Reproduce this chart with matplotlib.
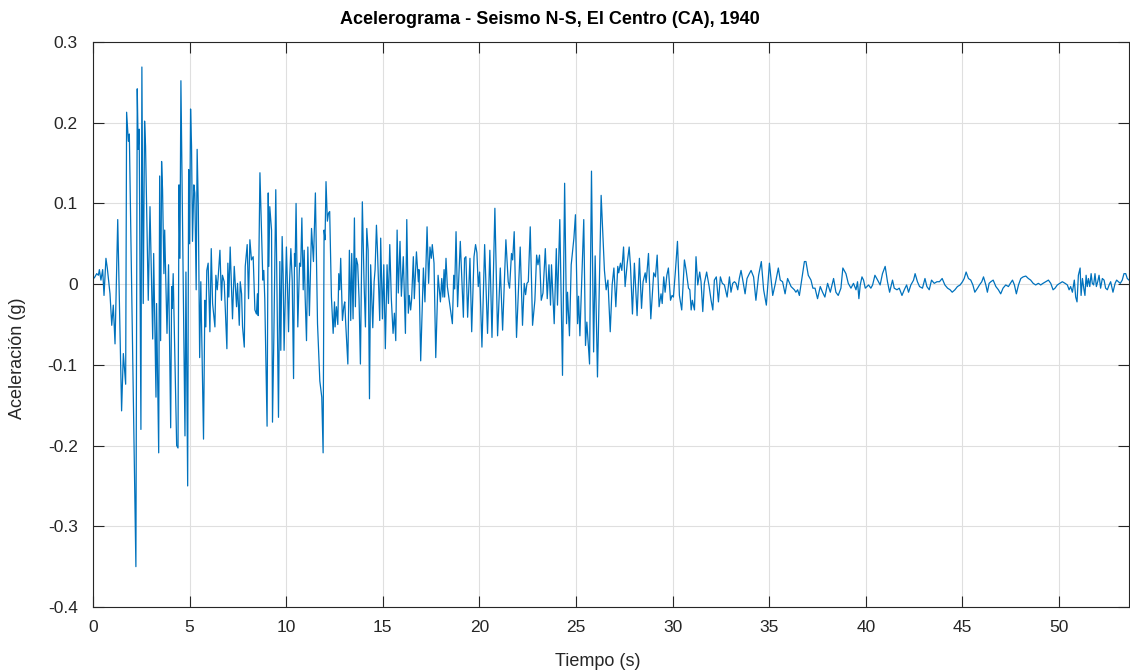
import numpy as np
import matplotlib
matplotlib.use("Agg")
import matplotlib.pyplot as plt

# acelerograma (puntos de giro: tiempo en s, aceleracion en g)
tiempo = [
    0.00, 0.10, 0.19, 0.28, 0.33, 0.41, 0.50, 0.57, 0.67, 0.74, 0.88, 0.97, 1.05, 1.14, 1.28,
    1.48, 1.57, 1.69, 1.74, 1.83, 1.88, 2.22, 2.29, 2.34, 2.39, 2.48, 2.53, 2.60, 2.67, 2.72,
    2.86, 2.95, 3.09, 3.14, 3.26, 3.29, 3.40, 3.45, 3.50, 3.55, 3.60, 3.67, 3.71, 3.83, 3.91,
    4.02, 4.07, 4.10, 4.15, 4.33, 4.40, 4.45, 4.50, 4.55, 4.76, 4.81, 4.90, 4.95, 5.00,
    5.05, 5.10, 5.15, 5.22, 5.27, 5.34, 5.39, 5.45, 5.52, 5.58, 5.72, 5.79, 5.84, 5.89, 5.96,
    6.05, 6.12, 6.19, 6.31, 6.36, 6.43, 6.48, 6.57, 6.65, 6.70, 6.79, 6.93, 6.98, 7.03, 7.10,
    7.22, 7.31, 7.43, 7.48, 7.57, 7.62, 7.69, 7.74, 7.83, 7.88, 7.98, 8.05, 8.12, 8.20, 8.29,
    8.38, 8.46, 8.51, 8.55, 8.64, 8.79, 8.84, 8.89, 9.01, 9.07, 9.10, 9.15, 9.24, 9.29, 9.36,
    9.46, 9.60, 9.67, 9.72, 9.79, 9.84, 9.89, 9.96, 10.01, 10.07, 10.12, 10.17, 10.24, 10.31,
    10.38, 10.43, 10.46, 10.51, 10.60, 10.69, 10.75, 10.81, 10.88, 10.93, 10.98, 11.05, 11.12,
    11.20, 11.31, 11.41, 11.51, 11.62, 11.74, 11.84, 11.91, 11.96, 12.01, 12.06, 12.13, 12.19,
    12.25, 12.34, 12.43, 12.50, 12.53, 12.60, 12.67, 12.72, 12.77, 12.82, 12.91, 12.98, 13.03,
    13.08, 13.19, 13.27, 13.34, 13.39, 13.46, 13.53, 13.58, 13.63, 13.70, 13.77, 13.84, 13.94,
    14.03, 14.10, 14.17, 14.24, 14.31, 14.37, 14.48, 14.55, 14.60, 14.67, 14.72, 14.84, 14.89,
    14.98, 15.05, 15.13, 15.22, 15.29, 15.36, 15.44, 15.53, 15.60, 15.67, 15.74, 15.80, 15.89,
    15.96, 16.06, 16.17, 16.24, 16.32, 16.37, 16.44, 16.49, 16.58, 16.63, 16.74, 16.79, 16.84,
    16.87, 16.96, 17.10, 17.18, 17.29, 17.37, 17.44, 17.51, 17.56, 17.65, 17.74, 17.86, 17.98,
    18.05, 18.11, 18.17, 18.20, 18.27, 18.34, 18.46, 18.60, 18.67, 18.72, 18.79, 18.87, 19.01,
    19.17, 19.23, 19.30, 19.39, 19.51, 19.60, 19.72, 19.80, 19.87, 19.94, 20.01, 20.13, 20.27,
    20.42, 20.54, 20.65, 20.80, 20.94, 21.08, 21.20, 21.37, 21.49, 21.56, 21.66, 21.72, 21.80,
    21.92, 22.11, 22.23, 22.32, 22.39, 22.46, 22.53, 22.63, 22.75, 22.87, 22.96, 23.03, 23.11,
    23.20, 23.29, 23.41, 23.51, 23.60, 23.68, 23.73, 23.87, 23.98, 24.04, 24.16, 24.30, 24.41,
    24.51, 24.56, 24.66, 24.75, 24.89, 24.97, 25.08, 25.13, 25.20, 25.40, 25.49, 25.56, 25.70,
    25.80, 25.91, 25.99, 26.11, 26.30, 26.47, 26.56, 26.65, 26.77, 26.87, 26.96, 27.06, 27.16,
    27.21, 27.30, 27.37, 27.46, 27.54, 27.65, 27.75, 27.82, 27.92, 28.02, 28.16, 28.28, 28.39,
    28.47, 28.58, 28.63, 28.75, 28.87, 29.02, 29.11, 29.20, 29.30, 29.40, 29.46, 29.54, 29.61,
    29.70, 29.78, 29.89, 29.97, 30.04, 30.14, 30.25, 30.35, 30.47, 30.61, 30.70, 30.82, 30.89,
    30.96, 31.02, 31.13, 31.21, 31.30, 31.40, 31.47, 31.56, 31.64, 31.76, 31.89, 31.99, 32.08,
    32.16, 32.26, 32.37, 32.47, 32.57, 32.68, 32.82, 32.94, 33.02, 33.11, 33.20, 33.28, 33.37,
    33.45, 33.54, 33.63, 33.75, 33.85, 33.97, 34.06, 34.19, 34.31, 34.45, 34.59, 34.71, 34.85,
    35.01, 35.09, 35.18, 35.30, 35.47, 35.57, 35.69, 35.82, 35.95, 36.13, 36.30, 36.38, 36.47,
    36.56, 36.68, 36.82, 36.90, 37.02, 37.16, 37.26, 37.37, 37.50, 37.64, 37.76, 37.88, 38.02,
    38.16, 38.33, 38.45, 38.57, 38.71, 38.81, 38.97, 39.09, 39.23, 39.36, 39.49, 39.57, 39.64,
    39.71, 39.80, 39.88, 39.97, 40.06, 40.14, 40.26, 40.35, 40.47, 40.61, 40.74, 40.86, 41.00,
    41.12, 41.23, 41.38, 41.47, 41.61, 41.73, 41.87, 41.99, 42.11, 42.21, 42.33, 42.47, 42.55,
    42.67, 42.78, 42.93, 43.06, 43.16, 43.28, 43.40, 43.54, 43.68, 43.81, 43.95, 44.09, 44.23,
    44.36, 44.47, 44.61, 44.74, 44.88, 45.00, 45.09, 45.19, 45.31, 45.43, 45.54, 45.64, 45.78,
    45.88, 46.00, 46.09, 46.21, 46.29, 46.38, 46.47, 46.59, 46.73, 46.86, 46.98, 47.10, 47.24,
    47.38, 47.48, 47.59, 47.69, 47.79, 47.90, 48.02, 48.14, 48.28, 48.41, 48.53, 48.66, 48.79,
    48.93, 49.05, 49.17, 49.31, 49.45, 49.57, 49.69, 49.79, 49.91, 50.04, 50.17, 50.31, 50.43,
    50.52, 50.60, 50.69, 50.79, 50.86, 50.93, 51.00, 51.09, 51.14, 51.21, 51.29, 51.34, 51.40,
    51.46, 51.52, 51.59, 51.66, 51.72, 51.79, 51.86, 51.93, 52.00, 52.07, 52.15, 52.24, 52.33,
    52.41, 52.50, 52.59, 52.67, 52.79, 52.90, 52.98, 53.07, 53.17, 53.27, 53.36, 53.45, 53.53,
    53.62,
]
aceleracion = [
    0.006, 0.009, 0.013, 0.011, 0.018, 0.005, 0.018, -0.014, 0.032, 0.020, -0.012, -0.051, -0.026, -0.074, 0.080,
    -0.157, -0.086, -0.124, 0.213, 0.177, 0.186, -0.350, 0.242, 0.167, 0.192, -0.180, 0.269, -0.024, 0.202, 0.171,
    -0.020, 0.096, -0.068, 0.038, -0.140, -0.024, -0.209, 0.134, -0.070, 0.152, 0.117, 0.013, 0.067, -0.061, 0.024,
    -0.178, -0.003, -0.030, 0.013, -0.200, -0.203, 0.123, 0.032, 0.252, -0.188, 0.015, -0.250, 0.142, 0.050,
    0.217, 0.171, 0.053, 0.123, 0.113, -0.007, 0.167, 0.096, -0.091, 0.003, -0.192, -0.020, -0.053, 0.017, 0.026,
    -0.059, 0.044, -0.024, -0.053, 0.011, -0.007, 0.009, 0.042, -0.020, 0.011, 0.003, -0.080, 0.026, -0.016, 0.046,
    -0.043, 0.022, -0.028, 0.001, -0.051, 0.003, -0.012, -0.053, -0.078, 0.022, 0.049, -0.018, 0.055, 0.030, 0.034,
    -0.032, -0.037, -0.012, -0.039, 0.138, 0.005, 0.017, -0.018, -0.176, 0.113, 0.022, 0.096, 0.067, -0.171, -0.066,
    0.117, -0.165, 0.028, -0.082, 0.059, 0.013, -0.082, -0.005, 0.046, -0.007, -0.059, 0.001, 0.044, 0.005,
    -0.117, 0.038, 0.022, 0.100, -0.053, 0.026, 0.022, 0.082, -0.007, 0.042, -0.016, -0.070, 0.046,
    -0.039, 0.069, 0.028, 0.113, -0.049, -0.120, -0.140, -0.209, 0.067, 0.055, 0.127, 0.078, 0.088,
    0.090, -0.016, -0.061, -0.022, -0.053, -0.028, -0.050, 0.013, -0.007, 0.032, -0.045, -0.028, -0.022,
    -0.049, -0.099, 0.042, -0.045, 0.038, -0.043, 0.082, -0.028, 0.032, 0.024, -0.018, -0.099, 0.102,
    0.001, -0.053, 0.069, 0.042, -0.142, 0.024, -0.054, 0.003, 0.018, 0.073, 0.044, -0.045, 0.057,
    -0.043, 0.024, -0.080, 0.024, -0.024, 0.049, -0.018, -0.061, -0.036, -0.070, 0.067, -0.011, 0.053,
    -0.015, 0.034, -0.061, 0.080, -0.036, -0.014, -0.032, -0.019, 0.034, -0.018, 0.040, 0.022, 0.003,
    0.018, -0.095, 0.020, -0.022, 0.071, 0.001, 0.046, 0.032, 0.049, 0.026, -0.091, 0.011, -0.022,
    0.007, -0.016, 0.018, -0.016, 0.032, -0.003, -0.024, -0.049, 0.011, -0.006, 0.065, -0.028, 0.053,
    -0.041, 0.032, 0.034, -0.041, 0.032, -0.059, 0.034, 0.049, 0.039, -0.003, 0.015, -0.078, 0.049,
    -0.061, 0.042, -0.066, 0.094, -0.064, 0.020, -0.057, 0.055, 0.003, -0.005, 0.038, 0.030, 0.065,
    -0.066, 0.046, -0.051, 0.001, -0.013, 0.001, 0.003, 0.071, -0.051, -0.020, 0.036, 0.024, 0.036,
    -0.020, -0.011, 0.044, -0.018, 0.024, -0.026, 0.024, -0.049, 0.044, -0.026, 0.080, -0.113, 0.125,
    -0.049, -0.010, -0.064, 0.024, 0.057, 0.086, -0.049, -0.015, -0.064, 0.080, -0.076, -0.047, -0.099,
    0.140, -0.084, 0.035, -0.115, 0.110, 0.017, -0.007, 0.005, -0.059, -0.001, 0.020, -0.028, 0.022,
    0.014, 0.026, 0.017, 0.046, -0.003, 0.026, 0.046, 0.022, -0.037, 0.026, -0.039, 0.032, -0.030,
    0.003, 0.014, 0.002, 0.038, -0.043, 0.014, 0.009, 0.036, -0.028, -0.012, -0.024, 0.009, -0.010,
    0.011, 0.020, -0.020, -0.014, -0.016, 0.015, 0.053, -0.014, -0.032, 0.030, 0.017, -0.005, -0.007,
    -0.032, -0.020, -0.032, 0.034, -0.001, 0.015, 0.003, -0.034, 0.001, 0.015, -0.003, -0.020, -0.032,
    0.005, 0.009, -0.022, 0.009, 0.001, -0.001, -0.016, 0.009, -0.010, 0.001, 0.003, 0.001, -0.007,
    0.007, 0.017, 0.005, -0.012, 0.007, 0.013, 0.017, 0.009, -0.020, 0.011, 0.028, -0.007, -0.026,
    0.026, 0.007, -0.014, -0.001, 0.020, 0.005, 0.003, -0.012, 0.007, -0.003, -0.007, -0.010, -0.007,
    -0.014, 0.005, 0.028, 0.028, 0.011, 0.005, -0.005, -0.005, -0.018, -0.003, -0.010, -0.016, 0.001,
    -0.010, 0.007, -0.010, -0.014, -0.005, 0.020, 0.013, 0.001, -0.005, 0.001, -0.007, 0.003, -0.018,
    -0.001, 0.009, 0.005, -0.005, -0.003, -0.001, -0.005, -0.001, 0.011, 0.005, -0.001, 0.013, 0.022,
    0.003, -0.010, 0.005, -0.005, -0.007, -0.005, -0.014, -0.007, -0.001, -0.010, -0.001, 0.005, 0.013,
    0.003, -0.003, -0.005, 0.007, -0.003, -0.007, 0.005, 0.001, 0.003, 0.003, 0.007, -0.001, -0.005,
    -0.007, -0.010, -0.007, -0.003, -0.001, 0.003, 0.007, 0.015, 0.007, 0.005, -0.001, -0.010, -0.005,
    -0.001, 0.003, 0.009, -0.001, -0.010, 0.001, 0.003, 0.005, -0.003, -0.007, -0.012, -0.005, -0.001,
    -0.003, 0.001, 0.005, -0.001, -0.012, -0.001, 0.007, 0.009, 0.010, 0.007, 0.005, 0.001, -0.001,
    0.001, -0.001, 0.001, 0.003, 0.005, 0.001, -0.007, -0.005, -0.001, 0.001, 0.003, 0.001, -0.001,
    -0.007, -0.003, -0.010, 0.005, -0.016, -0.022, 0.011, 0.020, -0.014, 0.007, -0.007, -0.014, 0.011,
    -0.003, 0.007, -0.003, 0.013, 0.001, -0.001, 0.013, -0.003, 0.003, 0.011, -0.005, 0.007, 0.005,
    -0.005, -0.007, -0.001, 0.003, -0.010, 0.001, 0.005, 0.003, 0.001, 0.005, 0.013, 0.013, 0.007,
    0.005,
]

ticks_x = [0, 5, 10, 15, 20, 25, 30, 35, 40, 45, 50]
ticks_y = [-0.4, -0.3, -0.2, -0.1, 0, 0.1, 0.2, 0.3]
etiquetas_y = ['-0.4', '-0.3', '-0.2', '-0.1', '0', '0.1', '0.2', '0.3']

plt.rcParams['font.family'] = ['Liberation Sans', 'DejaVu Sans']
gris = '#262626'

fig = plt.figure(figsize=(11.3, 6.72), dpi=100)
ax = fig.add_axes([93 / 1130, 65 / 672, 1036 / 1130, 565 / 672])

ax.plot(tiempo, aceleracion, color='#0072BD', lw=0.9)

ax.set_xlim(0, 53.62)
ax.set_ylim(-0.4, 0.3)
ax.set_xticks(ticks_x)
ax.set_xticklabels([str(v) for v in ticks_x])
ax.set_yticks(ticks_y)
ax.set_yticklabels(etiquetas_y)

ax.grid(True, color='#dfdfdf', lw=0.8)
ax.set_axisbelow(True)
ax.tick_params(direction='in', top=True, right=True, length=8, width=0.8,
               colors=gris, labelsize=12.5)
ax.tick_params(axis='y', pad=11)
ax.tick_params(axis='x', pad=9)
for s in ax.spines.values():
    s.set_color(gris)
    s.set_linewidth(0.8)

# textos colocados como en la figura original
fig.text(550 / 1130, 1 - 20 / 672, 'Acelerograma - Seismo N-S, El Centro (CA), 1940',
         fontsize=13, fontweight='bold', color='black', ha='center', va='center')
fig.text(598 / 1130, 1 - 661 / 672, 'Tiempo (s)', fontsize=13, color=gris,
         ha='center', va='center')
fig.text(18 / 1130, 1 - 358 / 672, 'Aceleración (g)', fontsize=13, color=gris,
         ha='center', va='center', rotation=90)

fig.savefig('out.png', dpi=100)
